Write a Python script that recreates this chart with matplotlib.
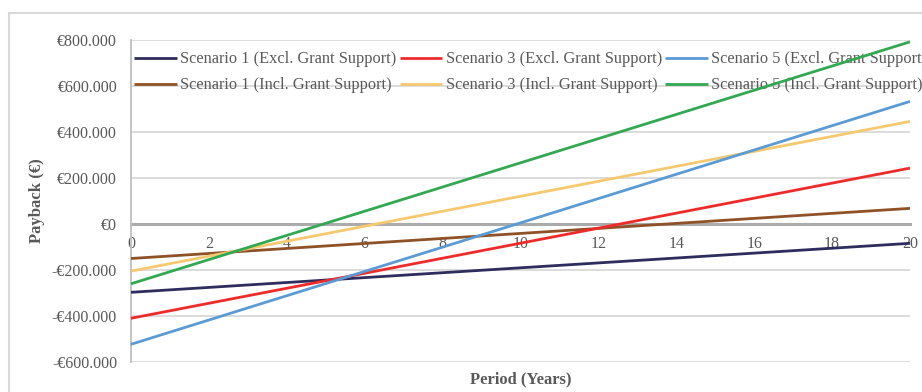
import matplotlib
matplotlib.use("Agg")
import matplotlib.pyplot as plt
from matplotlib.patches import Rectangle
from matplotlib.ticker import FuncFormatter

# Payback (EUR) at the start and end of the 20-year period
years = [0, 20]
s1_excl = [-297000, -84000]
s3_excl = [-410000, 243000]
s5_excl = [-523000, 533000]
s1_incl = [-150000, 68000]
s3_incl = [-205000, 446000]
s5_incl = [-260000, 792000]

labels = [
    "Scenario 1 (Excl. Grant Support)",
    "Scenario 1 (Incl. Grant Support)",
    "Scenario 3 (Excl. Grant Support)",
    "Scenario 3 (Incl. Grant Support)",
    "Scenario 5 (Excl. Grant Support)",
    "Scenario 5 (Incl. Grant Support)",
]
series = [s1_excl, s1_incl, s3_excl, s3_incl, s5_excl, s5_incl]
colors = ["#2F2C5E", "#8E5226", "#EE2B2B", "#F5C96F", "#5B9BD5", "#33A852"]

y_ticks = [-600000, -400000, -200000, 0, 200000, 400000, 600000, 800000]
x_ticks = list(range(0, 21, 2))

plt.rcParams["font.family"] = ["Liberation Serif", "DejaVu Serif"]
text_color = "#595959"

fig = plt.figure(figsize=(9.22, 3.92), dpi=100)
ax = fig.add_axes([131 / 922, 1 - 362 / 392, (910 - 131) / 922, (362 - 40) / 392])

# outer chart border
fig.patches.append(Rectangle((9 / 922, -0.2), 1.2, 1.2 - 13 / 392,
                             transform=fig.transFigure, fill=False,
                             edgecolor="#D9D9D9", linewidth=1.5))

handles = []
for vals, lab, col in zip(series, labels, colors):
    h, = ax.plot(years, vals, color=col, linewidth=2.0, label=lab,
                 solid_capstyle="butt", zorder=3, clip_on=False)
    handles.append(h)

ax.set_xlim(0, 20)
ax.set_ylim(-600000, 800000)
ax.set_yticks(y_ticks)
ax.set_xticks(x_ticks)


def euro(v, _pos):
    if v == 0:
        return "€0"
    s = f"{abs(int(v)):,}".replace(",", ".")
    return ("-€" if v < 0 else "€") + s


ax.yaxis.set_major_formatter(FuncFormatter(euro))
ax.grid(axis="y", color="#D9D9D9", linewidth=1.3, zorder=0)
ax.set_axisbelow(True)

for side in ("top", "right"):
    ax.spines[side].set_visible(False)
ax.spines["bottom"].set_position(("data", 0))
ax.spines["bottom"].set_color("#ABABAB")
ax.spines["bottom"].set_linewidth(2.2)
ax.spines["bottom"].set_zorder(1)
ax.spines["left"].set_color("#BFBFBF")
ax.spines["left"].set_linewidth(1.3)

ax.tick_params(axis="x", length=0, pad=9, labelsize=11.5, labelcolor=text_color)
ax.tick_params(axis="y", length=0, pad=10, labelsize=11.5, labelcolor=text_color)
for t in ax.get_xticklabels():
    t.set_zorder(4)

ax.set_ylabel("Payback (€)", fontsize=12, fontweight="bold", color=text_color)
ax.yaxis.set_label_coords(-86 / 779, 0.5)
fig.text(521 / 922, 1 - 379 / 392, "Period (Years)", ha="center", va="center",
         fontsize=12, fontweight="bold", color=text_color)

leg = ax.legend(handles=handles, ncol=3, loc="upper left",
                bbox_to_anchor=(0.0, 0.975), frameon=False, fontsize=11.8,
                handlelength=2.6, handletextpad=0.2, columnspacing=0.21,
                labelspacing=0.62, borderaxespad=0.0, borderpad=0.2)
for t in leg.get_texts():
    t.set_color(text_color)
leg.set_zorder(2)

fig.savefig("out.png", dpi=100)
